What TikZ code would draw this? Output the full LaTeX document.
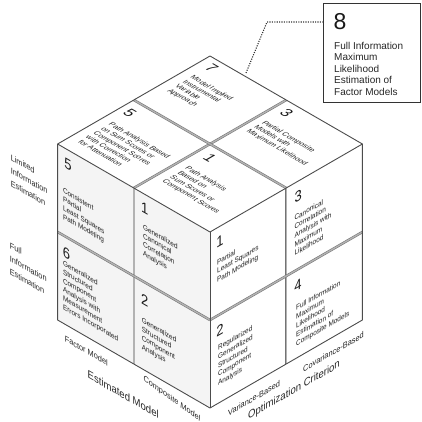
\documentclass[tikz,border=0pt]{standalone}
\usepackage{fontspec}
\setmainfont{Liberation Sans}
\usetikzlibrary{calc}
\begin{document}
\begin{tikzpicture}[x=1pt,y=1pt,
  cubeedge/.style={draw=black!70, line width=0.9pt, line join=round},
  seam/.style={draw=black!55, line width=0.55pt, double=black!30, double distance=1.4pt},
  numtxt/.style={font=\fontsize{15}{15}\selectfont, inner sep=0pt, text=black!90},
  celltxt/.style={font=\fontsize{7.4}{8.8}\selectfont, align=left, anchor=north west, inner sep=0pt, text=black!88},
  sidelabel/.style={font=\fontsize{8.5}{13}\selectfont, align=left, anchor=north west, inner sep=0pt, text=black!85},
  axislabel/.style={font=\fontsize{8.5}{10}\selectfont, anchor=west, inner sep=0pt, text=black!85},
  axistitle/.style={font=\fontsize{11}{12}\selectfont, anchor=west, inner sep=0pt, text=black!85},
  leftface/.style={cm={0.866,-0.5,0,1,(57.6,-144)}},
  rightface/.style={cm={0.866,0.5,0,1,(210,-232)}},
  topface/.style={cm={0.866,-0.5,0.866,0.5,(210,-56)}},
  dotline/.style={draw=black!80, line width=1.1pt, dash pattern=on 1.1pt off 1.3pt}
]
\useasboundingbox (0,-422) rectangle (422,0);

% cube corners
\coordinate (L)  at (57.6,-144);
\coordinate (F)  at (210,-232);
\coordinate (R)  at (362.4,-144);
\coordinate (B)  at (210,-56);
\coordinate (LB) at (57.6,-320);
\coordinate (FB) at (210,-408);
\coordinate (RB) at (362.4,-320);

% faces
\fill[gray!9] (L) -- (F) -- (FB) -- (LB) -- cycle;
\fill[white] (F) -- (R) -- (RB) -- (FB) -- cycle;
\fill[white] (L) -- (B) -- (R) -- (F) -- cycle;

% grooves between the eight blocks
\draw[seam] ($(L)!.5!(F)$) -- ($(LB)!.5!(FB)$);
\draw[seam] ($(L)!.5!(LB)$) -- ($(F)!.5!(FB)$);
\draw[seam] ($(F)!.5!(R)$) -- ($(FB)!.5!(RB)$);
\draw[seam] ($(F)!.5!(FB)$) -- ($(R)!.5!(RB)$);
\draw[seam] ($(L)!.5!(F)$) -- ($(B)!.5!(R)$);
\draw[seam] ($(L)!.5!(B)$) -- ($(F)!.5!(R)$);

% outline
\draw[cubeedge] (L) -- (B) -- (R) -- (RB) -- (FB) -- (LB) -- cycle;
\draw[cubeedge] (L) -- (F) -- (R);
\draw[cubeedge] (F) -- (FB);

% left face
\begin{scope}[leftface, transform shape]
  \node[numtxt] (l5n) at (11.9,-15) {5};
  \node[celltxt] (l5t) at (6.1,-40) {Consistent\\Partial\\Least Squares\\Path Modeling};
  \node[numtxt] (l1n) at (100.5,-13.8) {1};
  \node[celltxt] (l1t) at (98.5,-30.4) {Generalized\\Canonical\\Correlation\\Analysis};
  \node[numtxt] (l6n) at (10.4,-103.8) {6};
  \node[celltxt] (l6t) at (6.1,-112.7) {Generalized\\Structured\\Component\\Analysis with\\Measurement\\Errors Incorporated};
  \node[numtxt] (l2n) at (100.5,-105.8) {2};
  \node[celltxt] (l2t) at (97,-124.5) {Generalized\\Structured\\Component\\Analysis};
  \node[sidelabel] (lim) at (-54.3,-36.7) {Limited\\Information\\Estimation};
  \node[sidelabel] (full) at (-55.4,-125.3) {Full\\Information\\Estimation};
  \node[axislabel] (fm) at (8.1,-190) {Factor Model};
  \node[axistitle] (em) at (34.6,-212.5) {Estimated Model};
  \node[axislabel, rotate=-7] (cm) at (99,-185) {Composite Model};
\end{scope}

% right face
\begin{scope}[rightface, transform shape]
  \node[numtxt] (r1n) at (11.5,-14.8) {1};
  \node[celltxt] (r1t) at (8.1,-31.7) {Partial\\Least Squares\\Path Modeling};
  \node[numtxt] (r3n) at (102,-15) {3};
  \node[celltxt] (r3t) at (97.4,-32) {Canonical\\Correlation\\Analysis with\\Maximum\\Likelihood};
  \node[numtxt] (r2n) at (11.5,-103.8) {2};
  \node[celltxt] (r2t) at (9.2,-117.6) {Regularized\\Generalized\\Structured\\Component\\Analysis};
  \node[numtxt] (r4n) at (101.6,-103.8) {4};
  \node[celltxt] (r4t) at (99.3,-123) {Full Information\\Maximum\\Likelihood\\Estimation of\\Composite Models};
  \node[axislabel] (vb) at (20.8,-191.5) {Variance-Based};
  \node[axislabel] (cb) at (107.4,-191) {Covariance-Based};
  \node[axistitle] (oc) at (43.9,-207) {Optimization Criterion};
\end{scope}

% top face
\begin{scope}[topface, transform shape]
  \node[numtxt] (t7n) at (13.3,-11.4) {7};
  \node[celltxt] (t7t) at (10,-28) {Model Implied\\Instrumental\\Variable\\Approach};
  \node[numtxt] (t3n) at (101.6,-13.1) {3};
  \node[celltxt] (t3t) at (96.5,-31.9) {Partial Composite\\Models with\\Maximum Likelihood};
  \node[numtxt] (t5n) at (11.1,-103.5) {5};
  \node[celltxt] (t5t) at (9.6,-122) {Path Analysis Based\\on Sum Scores or\\Component Scores\\with Correction\\for Attenuation};
  \node[numtxt] (t1n) at (102,-102) {1};
  \node[celltxt] (t1t) at (97.9,-121.8) {Path Analysis\\Based on\\Sum Scores or\\Component Scores};
\end{scope}

% hidden block 8 callout
\node[draw=black!80, line width=1pt, minimum width=97pt, minimum height=99pt, anchor=north west, inner sep=0pt] (box8) at (323,-3) {};
\node[font=\fontsize{23}{23}\selectfont, inner sep=0pt, text=black!90] (n8) at (340,-21.7) {8};
\node[font=\fontsize{10}{11.4}\selectfont, align=left, anchor=north west, inner sep=0pt, text=black!85] (t8) at (334,-42) {Full Information\\Maximum\\Likelihood\\Estimation of\\Factor Models};
\coordinate (d0) at (246,-73);
\coordinate (d1) at (267,-22);
\draw[dotline] (d0) -- (d1) -- (d1 -| box8.west);
\end{tikzpicture}
\end{document}
